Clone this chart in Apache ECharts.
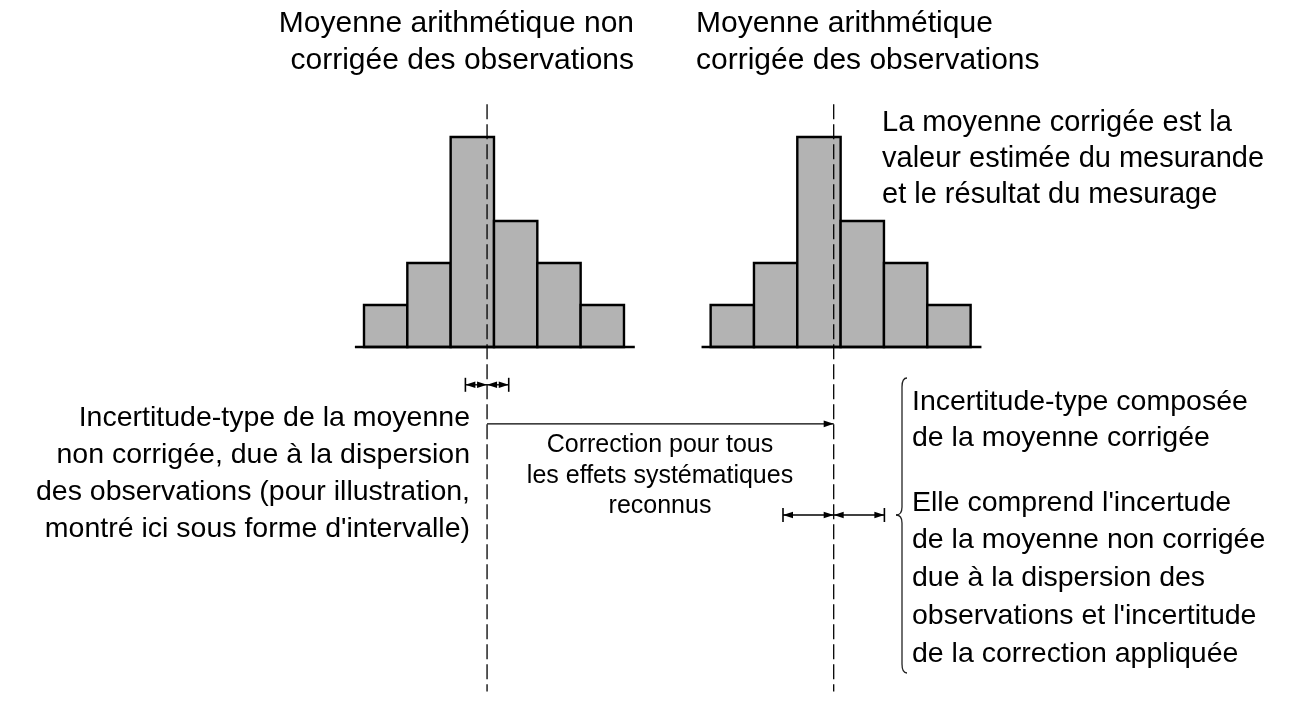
<!DOCTYPE html>
<html>
<head>
<meta charset="utf-8">
<script src="https://cdn.jsdelivr.net/npm/echarts@6/dist/echarts.min.js"></script>
<style>
html,body{margin:0;padding:0;background:#fff;}
#chart{width:1306px;height:713px;}
</style>
</head>
<body>
<div id="chart"></div>
<script>
// ---- data ----
const binCounts = [1, 2, 5, 3, 2, 1];           // histogram of observations
const rawStart = 0;                              // first bin edge, uncorrected
const correction = 8;                            // correction (in bin widths)
const rawMean = 2.84;                            // uncorrected arithmetic mean (bin units)
const uRawHalf = 0.5;                            // half-interval, std uncertainty of raw mean
const uCombinedHalf = 1.17;                      // half-interval, combined std uncertainty
const baselinePad = [0.21, 0.25];
const arrowLevels = { uRaw: -0.9, corr: -1.83, comb: -4.0 };
const dashExtent = [-8.2, 5.78];

// ---- layout ----
const W = 1306, H = 713;
const ORIGIN_X = 364, BIN_PX = 43.33, ORIGIN_Y = 347, UNIT_PX = 42;
const FONT = '"Liberation Sans", Arial, Helvetica, sans-serif';

const corrMean = rawMean + correction;
const nBins = binCounts.length;

const histData = [];
[rawStart, rawStart + correction].forEach(function (off) {
  binCounts.forEach(function (c, i) { histData.push([off + i, off + i + 1, c]); });
});

const arrowData = [
  // x1, x2, y, headStart, headEnd, tickStart, tickEnd
  [rawMean - uRawHalf, rawMean, arrowLevels.uRaw, 1, 1, 1, 0],
  [rawMean, rawMean + uRawHalf, arrowLevels.uRaw, 1, 1, 0, 1],
  [rawMean, corrMean, arrowLevels.corr, 0, 1, 0, 0],
  [corrMean - uCombinedHalf, corrMean, arrowLevels.comb, 1, 1, 1, 0],
  [corrMean, corrMean + uCombinedHalf, arrowLevels.comb, 1, 1, 0, 1]
];

function histItem(params, api) {
  const p0 = api.coord([api.value(0), api.value(2)]);
  const p1 = api.coord([api.value(1), 0]);
  return {
    type: 'rect',
    shape: { x: p0[0], y: p0[1], width: p1[0] - p0[0], height: p1[1] - p0[1] },
    style: { fill: '#b3b3b3', stroke: '#000', lineWidth: 2.4 }
  };
}

function arrowItem(params, api) {
  const a = api.coord([api.value(0), api.value(2)]);
  const b = api.coord([api.value(1), api.value(2)]);
  const y = a[1];
  const L = 10, HW = 3.3, T = 7;
  const children = [{
    type: 'line', shape: { x1: a[0], y1: y, x2: b[0], y2: y },
    style: { stroke: '#000', lineWidth: 1.3 }
  }];
  if (api.value(3)) children.push({ type: 'polygon', shape: { points: [[a[0], y], [a[0] + L, y - HW], [a[0] + L, y + HW]] }, style: { fill: '#000' } });
  if (api.value(4)) children.push({ type: 'polygon', shape: { points: [[b[0], y], [b[0] - L, y - HW], [b[0] - L, y + HW]] }, style: { fill: '#000' } });
  if (api.value(5)) children.push({ type: 'line', shape: { x1: a[0], y1: y - T, x2: a[0], y2: y + T }, style: { stroke: '#000', lineWidth: 1.6 } });
  if (api.value(6)) children.push({ type: 'line', shape: { x1: b[0], y1: y - T, x2: b[0], y2: y + T }, style: { stroke: '#000', lineWidth: 1.6 } });
  return { type: 'group', children: children };
}

function txt(s, x, y, align, size) {
  return { type: 'text', x: x, y: y, silent: true,
    style: { text: s, fill: '#000', font: (size || 29) + 'px ' + FONT, align: align, verticalAlign: 'middle' } };
}

const lineStyleDash = { color: '#000', width: 1.3, type: [15, 5] };

const option = {
  animation: false,
  backgroundColor: '#fff',
  grid: { left: 0, right: 0, top: 0, bottom: 0 },
  xAxis: { type: 'value', min: -ORIGIN_X / BIN_PX, max: (W - ORIGIN_X) / BIN_PX, show: false },
  yAxis: { type: 'value', min: -(H - ORIGIN_Y) / UNIT_PX, max: ORIGIN_Y / UNIT_PX, show: false },
  series: [
    { type: 'custom', renderItem: histItem, data: histData, encode: { x: [0, 1], y: 2 }, silent: true },
    { type: 'line', symbol: 'none', silent: true, lineStyle: { color: '#000', width: 2.4 },
      data: [[rawStart - baselinePad[0], 0], [rawStart + nBins + baselinePad[1], 0]] },
    { type: 'line', symbol: 'none', silent: true, lineStyle: { color: '#000', width: 2.4 },
      data: [[rawStart + correction - baselinePad[0], 0], [rawStart + correction + nBins + baselinePad[1], 0]] },
    { type: 'line', symbol: 'none', silent: true, lineStyle: lineStyleDash,
      data: [[rawMean, dashExtent[1]], [rawMean, dashExtent[0]]] },
    { type: 'line', symbol: 'none', silent: true, lineStyle: lineStyleDash,
      data: [[corrMean, dashExtent[1]], [corrMean, dashExtent[0]]] },
    { type: 'custom', renderItem: arrowItem, data: arrowData, encode: { x: [0, 1], y: 2 }, silent: true }
  ],
  graphic: [
    txt('Moyenne arithmétique non', 634, 24, 'right', 30),
    txt('corrigée des observations', 634, 61, 'right', 30),
    txt('Moyenne arithmétique', 696, 24, 'left', 30),
    txt('corrigée des observations', 696, 61, 'left', 30),
    txt('La moyenne corrigée est la', 882, 123, 'left'),
    txt('valeur estimée du mesurande', 882, 159, 'left'),
    txt('et le résultat du mesurage', 882, 195, 'left'),
    txt('Incertitude-type de la moyenne', 470, 418, 'right', 28.5),
    txt('non corrigée, due à la dispersion', 470, 455, 'right', 28.5),
    txt('des observations (pour illustration,', 470, 492, 'right', 28.5),
    txt("montré ici sous forme d'intervalle)", 470, 529, 'right', 28.5),
    txt('Correction pour tous', 660, 445, 'center', 25),
    txt('les effets systématiques', 660, 476, 'center', 25),
    txt('reconnus', 660, 506, 'center', 25),
    txt('Incertitude-type composée', 912, 402, 'left', 28.5),
    txt('de la moyenne corrigée', 912, 438, 'left', 28.5),
    txt("Elle comprend l'incertude", 912, 503, 'left', 28.5),
    txt('de la moyenne non corrigée', 912, 540, 'left', 28.5),
    txt('due à la dispersion des', 912, 578, 'left', 28.5),
    txt("observations et l'incertitude", 912, 616, 'left', 28.5),
    txt('de la correction appliquée', 912, 654, 'left', 28.5),
    { type: 'bezierCurve', silent: true, shape: { x1: 907, y1: 378, x2: 902, y2: 387, cpx1: 902, cpy1: 378 }, style: { stroke: '#222', lineWidth: 1.3, fill: null } },
    { type: 'line', silent: true, shape: { x1: 902, y1: 387, x2: 902, y2: 507 }, style: { stroke: '#222', lineWidth: 1.3 } },
    { type: 'bezierCurve', silent: true, shape: { x1: 902, y1: 507, x2: 896, y2: 515, cpx1: 902, cpy1: 515 }, style: { stroke: '#222', lineWidth: 1.3, fill: null } },
    { type: 'bezierCurve', silent: true, shape: { x1: 896, y1: 515, x2: 902, y2: 523, cpx1: 902, cpy1: 515 }, style: { stroke: '#222', lineWidth: 1.3, fill: null } },
    { type: 'line', silent: true, shape: { x1: 902, y1: 523, x2: 902, y2: 664 }, style: { stroke: '#222', lineWidth: 1.3 } },
    { type: 'bezierCurve', silent: true, shape: { x1: 902, y1: 664, x2: 907, y2: 673, cpx1: 902, cpy1: 673 }, style: { stroke: '#222', lineWidth: 1.3, fill: null } }
  ]
};

const chart = echarts.init(document.getElementById('chart'), null, { renderer: 'canvas' });
chart.setOption(option);
</script>
</body>
</html>
